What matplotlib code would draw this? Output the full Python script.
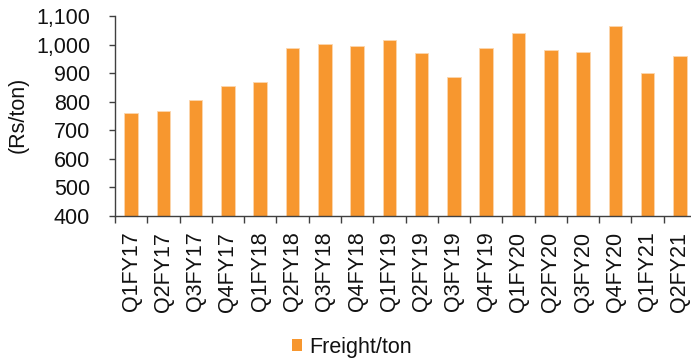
import matplotlib
matplotlib.use("Agg")
from matplotlib import pyplot as plt
from matplotlib.ticker import FuncFormatter
from matplotlib.patches import Patch

# quarters and freight per ton
quarters = ["Q1FY17", "Q2FY17", "Q3FY17", "Q4FY17", "Q1FY18", "Q2FY18",
            "Q3FY18", "Q4FY18", "Q1FY19", "Q2FY19", "Q3FY19", "Q4FY19",
            "Q1FY20", "Q2FY20", "Q3FY20", "Q4FY20", "Q1FY21", "Q2FY21"]
freight = [760, 766, 804, 856, 867, 987, 1001, 994, 1015, 969, 887, 987,
           1040, 981, 975, 1065, 899, 959]

plt.rcParams["font.family"] = ["Liberation Sans", "DejaVu Sans"]
bar_color = "#F7972F"
text_color = "#111111"
fs = 15.5

fig = plt.figure(figsize=(6.91, 3.58), dpi=100)
ax = fig.add_axes([115 / 691, 1 - 215.7 / 358, 581 / 691, (215.7 - 16) / 358])

x = list(range(len(quarters)))
ax.bar(x, freight, width=0.42, color=bar_color, edgecolor="#FCD6AE", linewidth=0.6)

ax.set_xlim(-0.5, len(quarters) - 0.5)
ax.set_ylim(400, 1100)
ax.set_yticks(range(400, 1101, 100))
ax.yaxis.set_major_formatter(FuncFormatter(lambda v, p: f"{int(v):,}"))

ax.set_xticks(x)
ax.set_xticklabels(quarters, rotation=90, fontsize=fs, color=text_color)
ax.set_xticks([i - 0.5 for i in range(len(quarters) + 1)], minor=True)
ax.tick_params(axis="x", which="major", length=0, pad=11.5)
ax.tick_params(axis="x", which="minor", length=5, width=1, color="#404040")
ax.tick_params(axis="y", length=4, width=1, color="#404040", pad=14,
               labelsize=fs, labelcolor=text_color)

for s in ["top", "right"]:
    ax.spines[s].set_visible(False)
for s in ["left", "bottom"]:
    ax.spines[s].set_color("#404040")
    ax.spines[s].set_linewidth(1)

fig.text(18 / 691, 1 - 115 / 358, "(Rs/ton)", rotation=90, fontsize=fs,
         color=text_color, ha="center", va="center")

handle = Patch(facecolor=bar_color, edgecolor="none")
fig.legend([handle], ["Freight/ton"], loc="center",
           bbox_to_anchor=(351.5 / 691, 1 - 347 / 358), frameon=False,
           fontsize=fs, handlelength=0.5, handleheight=0.5,
           handletextpad=0.3, borderpad=0, labelcolor=text_color)

fig.savefig("out.png", dpi=100)
